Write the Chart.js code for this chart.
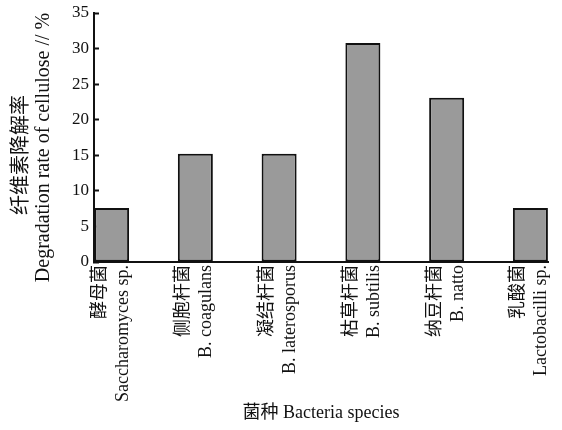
<!DOCTYPE html>
<html>
<head>
<meta charset="utf-8">
<script src="https://cdn.jsdelivr.net/npm/chart.js@4/dist/chart.umd.min.js"></script>
<style>
  html, body { margin: 0; padding: 0; background: #fff; }
  #wrap { width: 562px; height: 430px; }
</style>
</head>
<body>
<div id="wrap"><canvas id="chart"></canvas></div>
<script>
// dados
const namesCn = ['酵母菌', '侧胞杆菌', '凝结杆菌', '枯草杆菌', '纳豆杆菌', '乳酸菌'];
const namesLatin = ['Saccharomyces sp.', 'B. coagulans', 'B. laterosporus', 'B. subtilis', 'B. natto', 'Lactobacilli sp.'];
const rates = [7.6, 15.2, 15.2, 30.8, 23.1, 7.6];
const yTicks = [0, 5, 10, 15, 20, 25, 30, 35];

const serif = "'Liberation Serif', 'Noto Sans CJK SC', serif";

const points = rates.map((v, i) => ({ x: i, y: v }));

new Chart(document.getElementById('chart').getContext('2d'), {
    type: 'bar',
    data: {
        datasets: [{
            data: points,
            backgroundColor: '#9a9a9a',
            borderColor: '#111',
            borderWidth: 2,
            borderSkipped: false,
            barPercentage: 0.418,
            categoryPercentage: 1
        }]
    },
    options: {
        responsive: true,
        maintainAspectRatio: false,
        animation: false,
        layout: { padding: { left: 0, right: 14, top: 13, bottom: 0 } },
        plugins: { legend: { display: false }, tooltip: { enabled: false } },
        scales: {
            x: {
                type: 'linear',
                offset: false,
                min: -0.21,
                max: 5.21,
                afterBuildTicks: (scale) => {
                    // rótulos deslocados para alinhar as duas linhas com a barra
                    scale.ticks = namesCn.map((n, i) => ({ value: i - 0.14 }));
                },
                afterFit: (scale) => {
                    scale.height = 168;
                    scale.paddingLeft = 0;
                    scale.paddingRight = 0;
                },
                ticks: {
                    autoSkip: false,
                    minRotation: 90,
                    maxRotation: 90,
                    padding: 3,
                    color: '#111',
                    font: { family: serif, size: 18, lineHeight: 1.28 },
                    callback: (value, index) => [namesCn[index], namesLatin[index]]
                },
                grid: { display: true, offset: false, drawOnChartArea: false, drawTicks: false },
                border: { display: true, color: '#111', width: 2 },
                title: {
                    display: true,
                    text: '菌种 Bacteria species',
                    color: '#111',
                    font: { family: serif, size: 18, lineHeight: 1.2 },
                    padding: { top: 0, bottom: 6 }
                }
            },
            y: {
                min: 0,
                max: 35,
                afterBuildTicks: (scale) => {
                    scale.ticks = yTicks.map(v => ({ value: v }));
                },
                afterFit: (scale) => {
                    scale.width = 94;
                    scale.paddingTop = 0;
                    scale.paddingBottom = 0;
                },
                ticks: {
                    padding: 10,
                    color: '#111',
                    font: { family: serif, size: 17 }
                },
                grid: { drawOnChartArea: false, tickLength: -5, tickWidth: 2, tickColor: '#111' },
                border: { display: true, color: '#111', width: 2 },
                title: {
                    display: true,
                    // espaços no fim empurram o texto um pouco para baixo
                    text: ['纤维素降解率       ', 'Degradation rate of cellulose // %    '],
                    color: '#111',
                    font: { family: serif, size: 20, lineHeight: 1.1 },
                    padding: { top: 11, bottom: 0 }
                }
            }
        }
    }
});
</script>
</body>
</html>
